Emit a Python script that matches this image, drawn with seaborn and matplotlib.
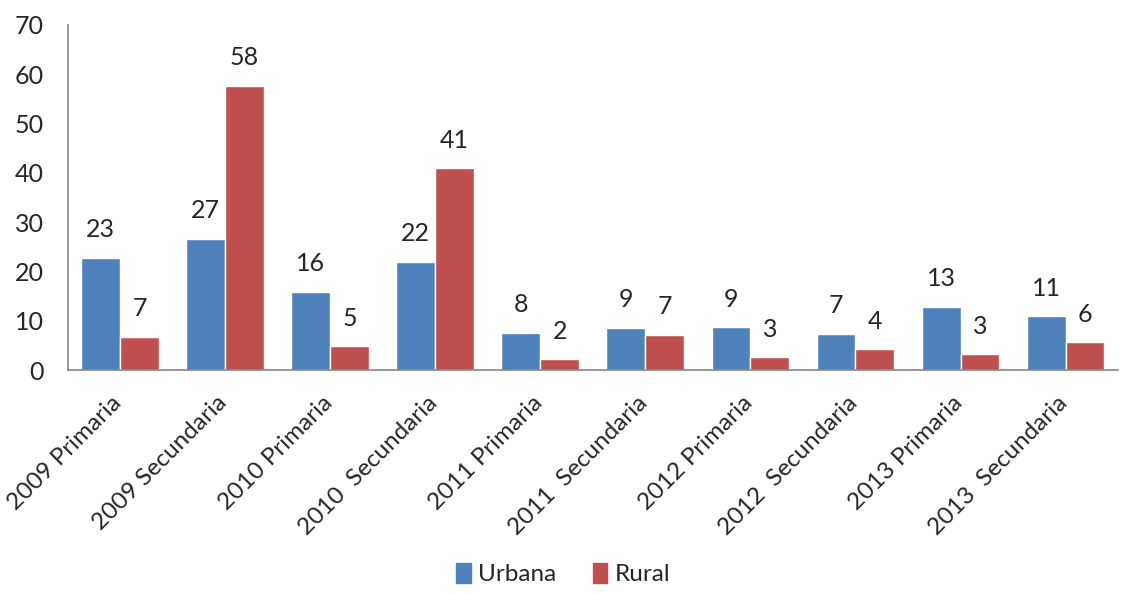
import pandas as pd
import matplotlib
matplotlib.use("Agg")
import matplotlib.pyplot as plt
import matplotlib.transforms as mtransforms
import seaborn as sns

categorias = ["2009 Primaria", "2009 Secundaria", "2010 Primaria", "2010  Secundaria",
              "2011 Primaria", "2011  Secundaria", "2012 Primaria", "2012  Secundaria",
              "2013 Primaria", "2013  Secundaria"]
urbana = [22.8, 26.6, 15.9, 21.9, 7.6, 8.6, 8.7, 7.3, 12.8, 10.9]
rural = [6.7, 57.6, 4.8, 40.9, 2.2, 7.1, 2.6, 4.2, 3.2, 5.6]
series = ["Urbana", "Rural"]
colores = ["#4F81BD", "#C0504D"]

df = pd.DataFrame({
    "categoria": categorias * 2,
    "valor": urbana + rural,
    "zona": ["Urbana"] * len(categorias) + ["Rural"] * len(categorias),
})

sns.set_style("white")
plt.rcParams["font.family"] = ["Lato", "DejaVu Sans"]

fig = plt.figure(figsize=(11.26, 5.94), dpi=100)
ax = fig.add_axes([0.060, 0.377, 0.933, 0.581])

sns.barplot(data=df, x="categoria", y="valor", hue="zona", hue_order=series,
            palette=colores, width=0.74, saturation=1, ax=ax, legend=False)

for cont in ax.containers:
    ax.bar_label(cont, fmt="%.0f", padding=12, fontsize=18)

ax.set_ylim(0, 70)
ax.set_yticks(range(0, 71, 10))
ax.set_xlim(-0.5, len(categorias) - 0.5)
ax.set_xlabel("")
ax.set_ylabel("")
ax.tick_params(axis="y", length=0, pad=17, labelsize=18)
ax.tick_params(axis="x", length=0, pad=16, labelsize=17.5)
# shift rotated labels a little to the right, like the original
shift = mtransforms.ScaledTranslation(6 / 100, 0, fig.dpi_scale_trans)
for lab in ax.get_xticklabels():
    lab.set_rotation(45)
    lab.set_ha("right")
    lab.set_transform(lab.get_transform() + shift)

sns.despine(ax=ax)
for s in ["left", "bottom"]:
    ax.spines[s].set_color("#868686")
    ax.spines[s].set_linewidth(1.2)

handles = [plt.Rectangle((0, 0), 1, 1, color=c) for c in colores]
fig.legend(handles, series, loc="lower center", bbox_to_anchor=(0.5, -0.022), ncol=2,
           frameon=False, fontsize=17.5, handlelength=0.6, handleheight=0.9,
           handletextpad=0.3, columnspacing=1.5)

fig.savefig("out.png", dpi=100)
